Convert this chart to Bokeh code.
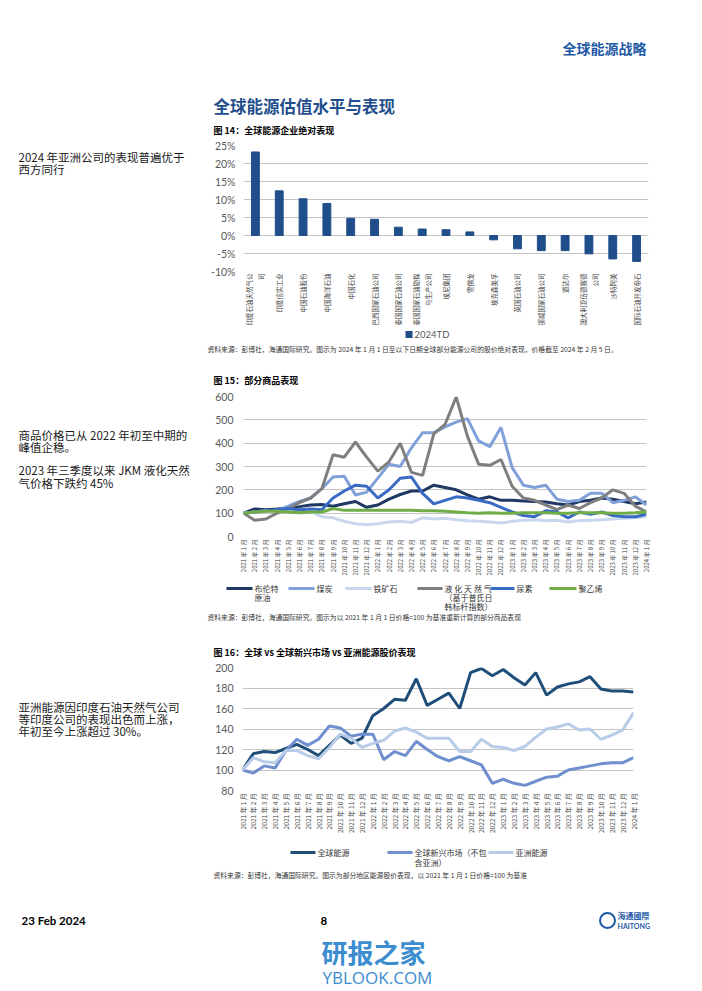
from math import pi
from bokeh.plotting import figure
from bokeh.models import (ColumnDataSource, Range1d, FactorRange, FixedTicker, PrintfTickFormatter)
from bokeh.core.properties import value
from bokeh.layouts import column, row
from bokeh.embed import file_html
from bokeh.resources import INLINE

CJK = "Noto Sans CJK SC"
LAT = "Lato"
PW = 700  # page width used

# ---------------- data: chart 14 ----------------
companies = ["印度石油天然气公\n司", "印度信实工业", "中国石油股份", "中国海洋石油", "中国石化",
             "巴西国家石油公司", "泰国国家石油公司", "泰国国家石油勘探\n与生产公司", "埃尼集团",
             "雪佛龙", "埃克森美孚", "英国石油公司", "挪威国家石油公司", "道达尔",
             "澳大利亚伍德赛德\n公司", "沙特阿美", "国际石油开发帝石"]
ytd_2024 = [23.2, 12.4, 10.2, 8.9, 4.8, 4.5, 2.3, 1.8, 1.6, 1.0,
            -1.2, -3.7, -4.2, -4.2, -5.1, -6.5, -7.2]
pct_ticks = [-10, -5, 0, 5, 10, 15, 20, 25]

# ---------------- data: chart 15 ----------------
month_labels = [f"{2021 + i // 12} 年 {i % 12 + 1} 月" for i in range(37)]
month_idx = list(range(37))
brent = [100, 118, 115, 118, 122, 128, 135, 137, 130, 140, 150, 125, 135, 160, 180, 195, 195, 220, 210, 200,
         178, 160, 170, 155, 155, 152, 150, 148, 140, 135, 150, 155, 165, 160, 150, 140, 148]
coal = [100, 105, 110, 112, 130, 150, 165, 205, 255, 258, 178, 190, 250, 310, 300, 380, 445, 445, 470, 490,
        505, 410, 385, 468, 295, 220, 210, 220, 160, 150, 155, 185, 185, 145, 155, 170, 135]
iron_ore = [100, 105, 110, 110, 112, 110, 108, 85, 80, 65, 55, 50, 55, 62, 65, 60, 80, 75, 78, 72,
            68, 65, 62, 58, 65, 70, 72, 68, 70, 62, 68, 70, 72, 75, 78, 80, 85]
lng_jkm = [100, 70, 75, 100, 120, 145, 165, 205, 350, 340, 405, 340, 280, 320, 400, 275, 262, 440, 480, 598,
           430, 310, 305, 330, 215, 165, 155, 135, 115, 135, 120, 145, 165, 200, 185, 130, 105]
urea = [100, 105, 110, 115, 120, 115, 118, 115, 165, 195, 220, 215, 165, 200, 250, 255, 185, 140, 155, 170,
        165, 155, 145, 125, 105, 90, 85, 110, 105, 80, 105, 95, 105, 90, 85, 85, 95]
polyethylene = [100, 105, 108, 108, 105, 102, 105, 105, 120, 112, 112, 112, 113, 113, 112, 112, 110, 110, 108, 105,
                102, 100, 102, 100, 100, 102, 102, 102, 100, 100, 102, 102, 102, 100, 100, 102, 105]
c15_ticks = [0, 100, 200, 300, 400, 500, 600]

# ---------------- data: chart 16 ----------------
global_energy = [100, 116, 118, 117, 121, 125, 120, 114, 124, 134, 126, 131, 153, 160, 169, 168, 189, 163, 169, 175,
                 160, 195, 199, 192, 198, 190, 183, 195, 173, 181, 184, 186, 191, 179, 177, 177, 176]
em_ex_asia = [100, 97, 104, 102, 119, 130, 124, 130, 143, 141, 133, 135, 135, 110, 118, 114, 128, 120, 113, 109,
              113, 109, 105, 87, 91, 87, 85, 89, 93, 94, 100, 102, 104, 106, 107, 107, 112]
asia_energy = [100, 112, 108, 107, 119, 119, 114, 111, 122, 135, 131, 122, 126, 129, 138, 141, 137, 131, 131, 131,
               118, 118, 130, 123, 122, 119, 123, 132, 140, 142, 145, 139, 140, 130, 134, 139, 156]
c16_ticks = [80, 100, 120, 140, 160, 180, 200]

C_BAR = "#1F4E8A"
C15 = dict(brent="#203864", coal="#7FA0D8", iron="#C9D7EE", lng="#7F7F7F", urea="#3A6BC4", pe="#70AD47")
C16 = dict(g="#1F4E79", em="#6F8FCF", asia="#B8CCE8")


def strip(x0, y0, w, h):
    """A text-only panel whose data units are page pixels (y downwards)."""
    p = figure(width=w, height=h, x_range=Range1d(x0, x0 + w), y_range=Range1d(y0 + h, y0),
               output_backend="svg", toolbar_location=None, title=None,
               x_axis_location=None, y_axis_location=None,
               min_border_left=0, min_border_right=0, min_border_top=0, min_border_bottom=0)
    p.xgrid.visible = False
    p.ygrid.visible = False
    p.outline_line_color = None
    p.background_fill_color = "white"
    p.border_fill_color = "white"
    return p


def txt(p, x, y, s, size, color="#1a1a1a", font=CJK, style="normal", align="left"):
    p.text(x=[x], y=[y], text=[s], text_font=value(font), text_font_size=value(f"{size}px"),
           text_font_style=style, text_color=color, text_align=align, text_baseline="middle")


def key_line(p, x0, x1, y, color):
    p.segment(x0=[x0], y0=[y], x1=[x1], y1=[y], line_color=color, line_width=3)


def chart(w, h, ml, mr, mt, mb, x_range, y_range):
    p = figure(width=w, height=h, x_range=x_range, y_range=y_range, title=None,
               output_backend="svg", toolbar_location=None,
               min_border_left=ml, min_border_right=mr, min_border_top=mt, min_border_bottom=mb)
    p.outline_line_color = None
    p.background_fill_color = "white"
    p.border_fill_color = "white"
    p.xgrid.grid_line_color = None
    p.ygrid.grid_line_color = "#C4C4C4"
    p.ygrid.grid_line_width = 1
    for ax in (p.xaxis[0], p.yaxis[0]):
        ax.axis_line_color = None
        ax.major_tick_line_color = None
        ax.minor_tick_line_color = None
        ax.major_tick_out = 0
        ax.major_tick_in = 0
    p.yaxis[0].major_label_text_font = LAT
    p.yaxis[0].major_label_text_font_size = "10.5px"
    p.yaxis[0].major_label_text_color = "#595959"
    p.xaxis[0].major_label_text_font = CJK
    p.xaxis[0].major_label_text_color = "#404040"
    p.xaxis[0].major_label_orientation = pi / 2
    return p


LW = 208           # width of the left text column
CW = PW - LW       # width of the chart column
BODY = 11.5

# ---------------- top strip (page y 0-137) ----------------
t0 = strip(0, 0, PW, 137)
txt(t0, 562, 47, "全球能源战略", 14, color="#1F5AA6", style="bold")
txt(t0, 213, 105, "全球能源估值水平与表现", 16.5, color="#1F4E8C", style="bold")
txt(t0, 213, 130, "图 14：全球能源企业绝对表现", 9, color="#000000", style="bold")

# ---------------- row 1 (page y 137-328) ----------------
l1 = strip(0, 137, LW, 191)
txt(l1, 18, 155, "2024 年亚洲公司的表现普遍优于", BODY)
txt(l1, 18, 172, "西方同行", BODY)

p1 = chart(CW, 191, 239 - LW, PW - 648, 8, 56, FactorRange(*companies, range_padding=0), Range1d(-10, 25))
src1 = ColumnDataSource(dict(company=companies, value=ytd_2024))
p1.vbar(x="company", top="value", bottom=0, width=0.33, color=C_BAR, source=src1)
p1.yaxis[0].ticker = FixedTicker(ticks=pct_ticks)
p1.yaxis[0].formatter = PrintfTickFormatter(format="%d%%")
p1.yaxis[0].major_label_standoff = 8
p1.xaxis[0].major_label_text_font_size = "6.5px"
p1.xaxis[0].major_label_standoff = 2

# ---------------- strip 1 (page y 328-388) ----------------
s1 = strip(0, 328, PW, 60)
s1.rect(x=[408.5], y=[334], width=7, height=7, fill_color=C_BAR, line_color=None)
txt(s1, 414, 334, "2024TD", 9.5, color="#595959", font=LAT)
txt(s1, 207, 348,
    "资料来源：彭博社，海通国际研究。图示为 2024 年 1 月 1 日至以下日期全球部分能源公司的股价绝对表现，价格截至 2024 年 2 月 5 日。",
    6.8, color="#333333")
txt(s1, 213, 380, "图 15：部分商品表现", 9, color="#000000", style="bold")

# ---------------- row 2 (page y 388-578) ----------------
l2 = strip(0, 388, LW, 190)
txt(l2, 18, 440, "商品价格已从 2022 年初至中期的", BODY)
txt(l2, 18, 457, "峰值企稳。", BODY)
txt(l2, 18, 488, "2023 年三季度以来 JKM 液化天然", BODY)
txt(l2, 18, 505, "气价格下跌约 45%", BODY)

p2 = chart(CW, 190, 243 - LW, PW - 646, 8, 40, Range1d(0, 36), Range1d(0, 600))
src2 = ColumnDataSource(dict(m=month_idx, brent=brent, coal=coal, iron=iron_ore, lng=lng_jkm,
                             urea=urea, pe=polyethylene))
for col in ["brent", "coal", "iron", "lng", "urea", "pe"]:
    p2.line(x="m", y=col, source=src2, line_color=C15[col], line_width=3)
p2.yaxis[0].ticker = FixedTicker(ticks=c15_ticks)
p2.yaxis[0].major_label_standoff = 10
p2.xaxis[0].ticker = FixedTicker(ticks=month_idx)
p2.xaxis[0].major_label_overrides = {i: s for i, s in enumerate(month_labels)}
p2.xaxis[0].major_label_text_font_size = "6px"
p2.xaxis[0].major_label_standoff = 3

# ---------------- strip 2 (page y 578-659) ----------------
s2 = strip(0, 578, PW, 81)
legend15 = [("brent", 226, 252, ["布伦特", "原油"]),
            ("coal", 288, 314, ["煤炭"]),
            ("iron", 345, 371, ["铁矿石"]),
            ("lng", 417, 442, ["液 化 天 然 气", "（基于普氏日", "韩标杆指数）"]),
            ("urea", 490, 514, ["尿素"]),
            ("pe", 549, 576, ["聚乙烯"])]
for key, xa, xb, lines in legend15:
    key_line(s2, xa, xb, 588, C15[key])
    for k, line in enumerate(lines):
        txt(s2, xb + 2, 588 + 9 * k, line, 8, color="#333333")
txt(s2, 207, 616,
    "资料来源：彭博社，海通国际研究。图示为以 2021 年 1 月 1 日价格=100 为基准重新计算的部分商品表现",
    6.8, color="#333333")
txt(s2, 213, 652, "图 16：全球 vs 全球新兴市场 vs 亚洲能源股价表现", 9, color="#000000", style="bold")

# ---------------- row 3 (page y 659-836) ----------------
l3 = strip(0, 659, LW, 177)
txt(l3, 18, 716, "亚洲能源因印度石油天然气公司", BODY)
txt(l3, 18, 733, "等印度公司的表现出色而上涨，", BODY)
txt(l3, 18, 750, "年初至今上涨超过 30%。", BODY)

p3 = chart(CW, 177, 242 - LW, PW - 633, 8, 45, Range1d(0, 36), Range1d(80, 200))
src3 = ColumnDataSource(dict(m=month_idx, g=global_energy, em=em_ex_asia, asia=asia_energy))
for col in ["g", "em", "asia"]:
    p3.line(x="m", y=col, source=src3, line_color=C16[col], line_width=3)
p3.yaxis[0].ticker = FixedTicker(ticks=c16_ticks)
p3.yaxis[0].major_label_standoff = 9
p3.xaxis[0].ticker = FixedTicker(ticks=month_idx)
p3.xaxis[0].major_label_overrides = {i: s for i, s in enumerate(month_labels)}
p3.xaxis[0].major_label_text_font_size = "6.6px"
p3.xaxis[0].major_label_standoff = 3

# ---------------- strip 3 (page y 836-989) ----------------
s3 = strip(0, 836, PW, 153)
legend16 = [("g", 290, 315, ["全球能源"]),
            ("em", 387, 412, ["全球新兴市场（不包", "含亚洲）"]),
            ("asia", 488, 513, ["亚洲能源"])]
for key, xa, xb, lines in legend16:
    key_line(s3, xa, xb, 852, C16[key])
    for k, line in enumerate(lines):
        txt(s3, xb + 2, 852 + 10 * k, line, 8, color="#333333")
txt(s3, 213, 874,
    "资料来源：彭博社，海通国际研究。图示为部分地区能源股价表现，以 2021 年 1 月 1 日价格=100 为基准",
    6.8, color="#333333")
txt(s3, 21, 920, "23 Feb 2024", 11.5, color="#000000", font=LAT, style="bold")
txt(s3, 320, 920, "8", 11.5, color="#000000", font=LAT, style="bold")
s3.scatter(x=[607], y=[920], size=15, marker="circle", fill_color=None, line_color="#1F5AA6", line_width=2)
txt(s3, 617, 915, "海通國際", 8, color="#1F5AA6", style="bold")
txt(s3, 617, 925, "HAITONG", 7, color="#1F5AA6", font=LAT, style="bold")
txt(s3, 321, 951, "研报之家", 26, color="#3C8DD0", style="bold")
txt(s3, 322, 977, "YBLOOK.COM", 17, color="#3C8DD0", font="Open Sans")

layout = column(t0, row(l1, p1), s1, row(l2, p2), s2, row(l3, p3), s3)
open("out.html", "w").write(file_html(layout, INLINE))
